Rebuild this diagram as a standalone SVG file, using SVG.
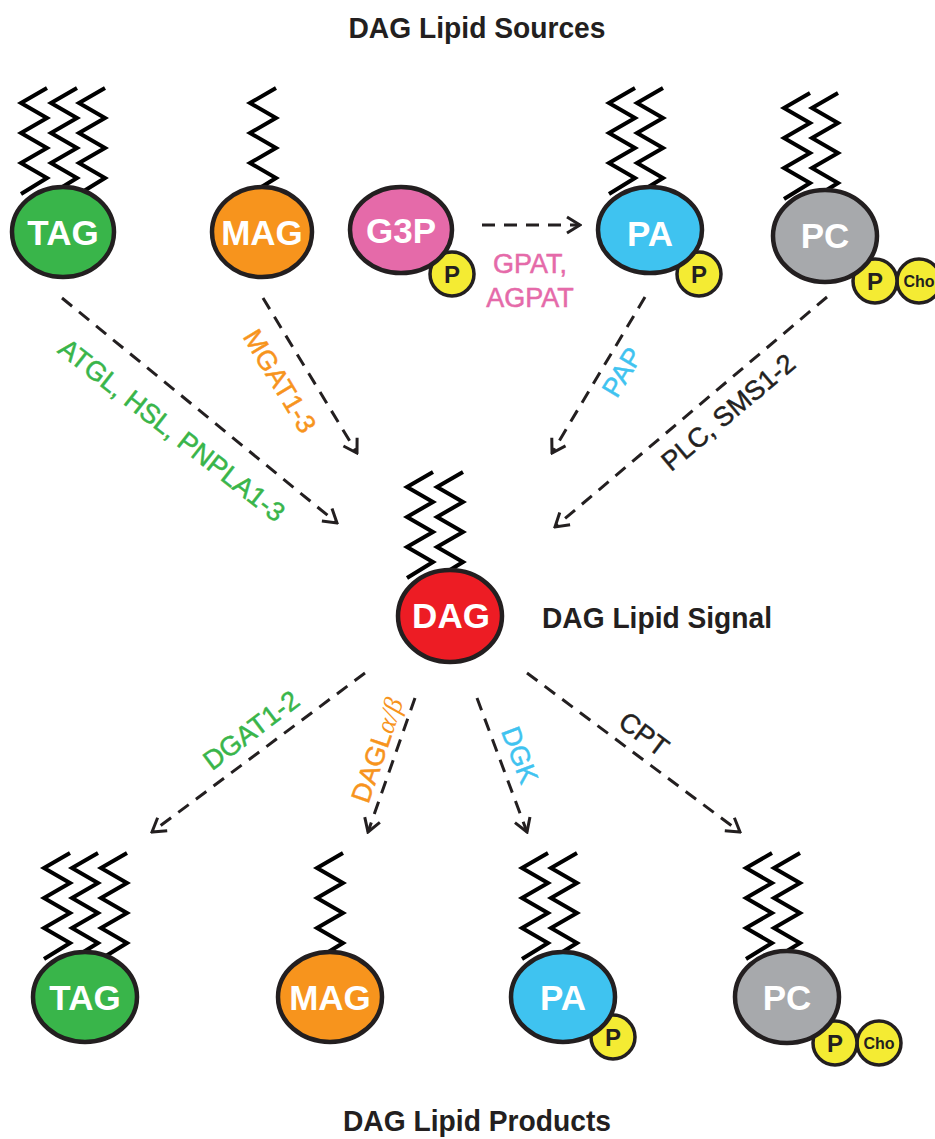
<svg xmlns="http://www.w3.org/2000/svg" xmlns:xlink="http://www.w3.org/1999/xlink" width="935" height="1139" viewBox="0 0 935 1139">
<style>
.title{font-family:"Liberation Sans",Arial,sans-serif;font-weight:bold;font-size:30px;fill:#231f20;text-anchor:middle}
.chain{fill:none;stroke:#000;stroke-width:4;stroke-linejoin:miter}
.body{stroke:#231f20;stroke-width:4.5}
.lbl{font-family:"Liberation Sans",Arial,sans-serif;font-weight:bold;font-size:35px;fill:#fff;text-anchor:middle}
.pc{fill:#f4eb33;stroke:#231f20;stroke-width:3.5}
.pt{font-family:"Liberation Sans",Arial,sans-serif;font-weight:bold;font-size:24px;fill:#231f20;text-anchor:middle}
.cho{font-family:"Liberation Sans",Arial,sans-serif;font-weight:bold;font-size:16px;fill:#231f20;text-anchor:middle}
.conn{fill:none;stroke:#231f20;stroke-width:3;stroke-dasharray:13 9}
.en{font-family:"Liberation Sans",Arial,sans-serif;font-size:27px;text-anchor:middle;stroke-width:0.5}
.green{fill:#39b54a}.orange{fill:#f7941d}.pink{fill:#e56aa9}.blue{fill:#3fc3f0}.dark{fill:#231f20}.gray{fill:#a7a9ac}.red{fill:#ed1c24}
.en.green{stroke:#39b54a}.en.orange{stroke:#f7941d}.en.pink{stroke:#e56aa9}.en.blue{stroke:#3fc3f0}.en.dark{stroke:#231f20}
</style>
<defs>
<path id="chain" class="chain" d="M0,0 l-26,15 l26,15 l-26,15 l26,15 l-26,15 l26,15 l-26,16"/>
<marker id="ah" markerUnits="userSpaceOnUse" markerWidth="18" markerHeight="20" viewBox="0 0 18 20" refX="16" refY="10" orient="auto">
<path d="M3,2 L16,10 L3,18" fill="none" stroke="#231f20" stroke-width="3" stroke-dasharray="none"/>
</marker>
</defs>
<rect width="935" height="1139" fill="#fff"/>

<text class="title" x="477" y="38" textLength="257" lengthAdjust="spacingAndGlyphs">DAG Lipid Sources</text>
<text class="title" x="657" y="628" textLength="230" lengthAdjust="spacingAndGlyphs">DAG Lipid Signal</text>
<text class="title" x="477" y="1131" textLength="268" lengthAdjust="spacingAndGlyphs">DAG Lipid Products</text>

<g id="connectors">
<path class="conn" marker-end="url(#ah)" d="M62,298 L337,523"/>
<path class="conn" marker-end="url(#ah)" d="M263,298 L357,453"/>
<path class="conn" marker-end="url(#ah)" d="M645,297 L552,453"/>
<path class="conn" marker-end="url(#ah)" d="M827,297 L555,527"/>
<path class="conn" marker-end="url(#ah)" d="M482,225 L580,225"/>
<path class="conn" marker-end="url(#ah)" d="M365,673 L152,832"/>
<path class="conn" marker-end="url(#ah)" d="M415,698 L368,832"/>
<path class="conn" marker-end="url(#ah)" d="M477,698 L527,832"/>
<path class="conn" marker-end="url(#ah)" d="M527,673 L740,832"/>
<text class="en pink" x="530" y="273">GPAT,</text>
<text class="en pink" x="530" y="307">AGPAT</text>
<text class="en green" transform="translate(172,430) rotate(38)" y="9.5">ATGL, HSL, PNPLA1-3</text>
<text class="en orange" transform="translate(280,381) rotate(59)" y="9.5">MGAT1-3</text>
<text class="en blue" transform="translate(622,372) rotate(-59)" y="9.5">PAP</text>
<text class="en dark" transform="translate(728,412) rotate(-40)" y="9.5">PLC, SMS1-2</text>
<text class="en green" transform="translate(251,730) rotate(-37)" y="9.5">DGAT1-2</text>
<text class="en orange" transform="translate(377,750) rotate(-71)" y="9.5">DAGL<tspan font-family="'Liberation Serif',serif" font-style="italic" stroke-width="0">α/β</tspan></text>
<text class="en blue" transform="translate(520,755) rotate(69.5)" y="9.5">DGK</text>
<text class="en dark" transform="translate(644,734) rotate(37)" y="9.5">CPT</text>
</g>

<g id="tag-top">
<use xlink:href="#chain" x="47" y="88"/><use xlink:href="#chain" x="77" y="88"/><use xlink:href="#chain" x="105" y="88"/>
<ellipse class="body green" cx="63" cy="232" rx="51" ry="45"/>
<text class="lbl" x="63" y="245">TAG</text>
</g>
<g id="mag-top">
<use xlink:href="#chain" x="276" y="88"/>
<ellipse class="body orange" cx="262" cy="232" rx="50" ry="45"/>
<text class="lbl" x="262" y="245">MAG</text>
</g>
<g id="g3p">
<circle class="pc" cx="452" cy="274" r="22"/>
<ellipse class="body pink" cx="401" cy="230" rx="51" ry="43"/>
<text class="lbl" x="401" y="243">G3P</text>
<text class="pt" x="452" y="283">P</text>
</g>
<g id="pa-top">
<use xlink:href="#chain" x="635" y="88"/><use xlink:href="#chain" x="663" y="88"/>
<circle class="pc" cx="699" cy="274" r="22"/>
<ellipse class="body blue" cx="650" cy="230" rx="52" ry="43"/>
<text class="lbl" x="650" y="246">PA</text>
<text class="pt" x="699" y="283">P</text>
</g>
<g id="pc-top">
<use xlink:href="#chain" x="810" y="93"/><use xlink:href="#chain" x="838" y="93"/>
<circle class="pc" cx="919" cy="281" r="22"/>
<circle class="pc" cx="875" cy="281" r="22"/>
<ellipse class="body gray" cx="825" cy="236" rx="52" ry="46"/>
<text class="lbl" x="825" y="248">PC</text>
<text class="pt" x="875" y="290">P</text>
<text class="cho" x="919" y="287">Cho</text>
</g>

<g id="dag">
<use xlink:href="#chain" x="433" y="472"/><use xlink:href="#chain" x="463" y="472"/>
<ellipse class="body red" cx="450" cy="616" rx="52" ry="46"/>
<text class="lbl" x="451" y="628">DAG</text>
</g>

<g id="tag-bottom">
<use xlink:href="#chain" x="70" y="853"/><use xlink:href="#chain" x="98" y="853"/><use xlink:href="#chain" x="127" y="853"/>
<ellipse class="body green" cx="85" cy="997" rx="52" ry="45"/>
<text class="lbl" x="85" y="1010">TAG</text>
</g>
<g id="mag-bottom">
<use xlink:href="#chain" x="343" y="853"/>
<ellipse class="body orange" cx="330" cy="997" rx="52" ry="45"/>
<text class="lbl" x="330" y="1010">MAG</text>
</g>
<g id="pa-bottom">
<use xlink:href="#chain" x="548" y="853"/><use xlink:href="#chain" x="577" y="853"/>
<circle class="pc" cx="613" cy="1037" r="22"/>
<ellipse class="body blue" cx="563" cy="997" rx="52" ry="45"/>
<text class="lbl" x="563" y="1010">PA</text>
<text class="pt" x="613" y="1046">P</text>
</g>
<g id="pc-bottom">
<use xlink:href="#chain" x="772" y="853"/><use xlink:href="#chain" x="800" y="853"/>
<circle class="pc" cx="879" cy="1043" r="22"/>
<circle class="pc" cx="835" cy="1043" r="22"/>
<ellipse class="body gray" cx="787" cy="997" rx="52" ry="46"/>
<text class="lbl" x="787" y="1010">PC</text>
<text class="pt" x="835" y="1052">P</text>
<text class="cho" x="879" y="1049">Cho</text>
</g>
</svg>
